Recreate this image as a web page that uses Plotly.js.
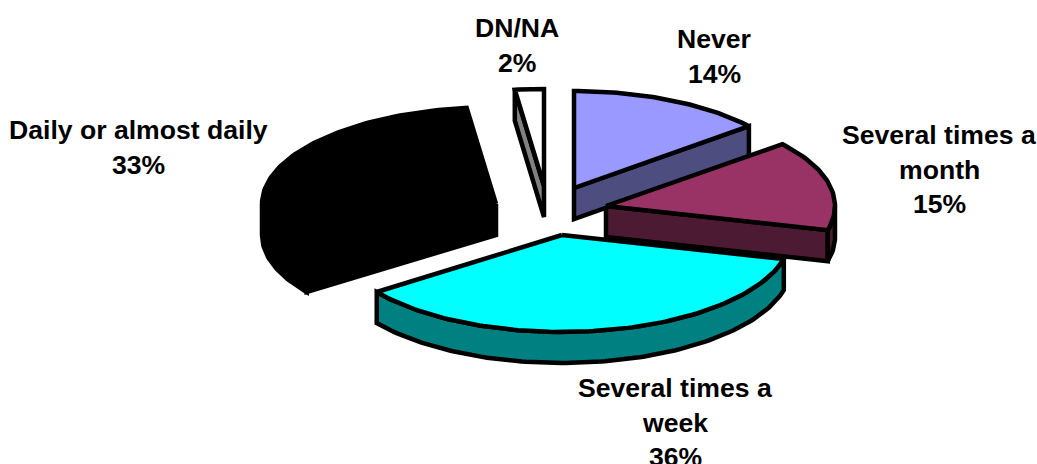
<!DOCTYPE html>
<html>
<head>
<meta charset="utf-8">
<script src="https://cdn.plot.ly/plotly-3.0.1.min.js"></script>
<style>
html, body { margin: 0; padding: 0; background: #fff; overflow: hidden; }
#chart { width: 1037px; height: 464px; }
#chart .scatterlayer path { stroke-linejoin: miter !important; stroke-miterlimit: 2.5; }
</style>
</head>
<body>
<div id="chart"></div>
<script>
// Survey answers, clockwise from twelve o'clock
const categories = ['Never', 'Several times a month', 'Several times a week', 'Daily or almost daily', 'DN/NA'];
const shares = [14, 15, 36, 33, 2];

// Label text, one entry per drawn line, with the percentage appended below
const labelLines = [['Never'], ['Several times a', 'month'], ['Several times a', 'week'], ['Daily or almost daily'], ['DN/NA']];

// Slice colours
const faceColors = ['#9999ff', '#993366', '#00ffff', '#000000', '#ffffff'];
const wallColors = ['#4d4d80', '#4d1a33', '#008080', '#000000', '#808080'];

// Projection of the tilted, exploded disc
const radiusX = [227, 229, 229, 234, 233];
const radiusY = 97;
const depth = 31;
const apexX = [574, 606, 562, 496, 544];
const apexY = [188, 206, 235, 204, 186];
const outline = 4.5;

// Label anchor (centre of first line) and line spacing
const labelX = [714, 939, 675, 138, 517];
const labelY = [39, 135, 388, 130, 28];
const lineStep = 34.5;
const labelSize = 26.6;

const rad = d => d * Math.PI / 180;
const at = (i, deg, drop = 0) => [
  apexX[i] + radiusX[i] * Math.sin(rad(deg)),
  apexY[i] - radiusY * Math.cos(rad(deg)) + drop
];

function arc(i, from, to, drop = 0) {
  const pts = [];
  const n = Math.max(2, Math.ceil(Math.abs(to - from)));
  for (let k = 0; k <= n; k++) pts.push(at(i, from + (to - from) * k / n, drop));
  return pts;
}

function polygon(pts, fill) {
  const closed = pts.concat([pts[0]]);
  return {
    type: 'scatter', mode: 'lines',
    x: closed.map(p => p[0]), y: closed.map(p => p[1]),
    fill: 'toself', fillcolor: fill,
    line: { color: '#000000', width: outline },
    hoverinfo: 'skip', showlegend: false
  };
}

function sliceTraces(i, start, end) {
  const out = [];
  const apex = [apexX[i], apexY[i]];
  const apexLow = [apexX[i], apexY[i] + depth];
  // Cut faces that turn towards the viewer
  if (Math.sin(rad(start)) < -1e-6) {
    out.push(polygon([apex, at(i, start), at(i, start, depth), apexLow], wallColors[i]));
  }
  if (Math.sin(rad(end)) > 1e-6) {
    out.push(polygon([apex, at(i, end), at(i, end, depth), apexLow], wallColors[i]));
  }
  // Outer rim: only the front half of the disc shows
  const a = Math.max(start, 90), b = Math.min(end, 270);
  if (b > a) {
    out.push(polygon(arc(i, a, b).concat(arc(i, b, a, depth)), wallColors[i]));
  }
  // Top face
  out.push(polygon([apex].concat(arc(i, start, end)), faceColors[i]));
  return out;
}

const total = shares.reduce((s, v) => s + v, 0);
const spans = [];
let running = 0;
shares.forEach(v => {
  spans.push([running / total * 360, (running + v) / total * 360]);
  running += v;
});

// Back slices first so the front ones overlap them
const drawOrder = [3, 4, 0, 1, 2];
const traces = [];
drawOrder.forEach(i => traces.push(...sliceTraces(i, spans[i][0], spans[i][1])));

const annotations = [];
categories.forEach((name, i) => {
  labelLines[i].concat([shares[i] + '%']).forEach((line, k) => {
    annotations.push({
      x: labelX[i], y: labelY[i] + k * lineStep,
      xref: 'x', yref: 'y', xanchor: 'center', yanchor: 'middle',
      text: '<b>' + line + '</b>', showarrow: false,
      font: { family: 'Liberation Sans, Arial, sans-serif', size: labelSize, color: '#000000' }
    });
  });
});

const hidden = { visible: false, fixedrange: true };
Plotly.newPlot('chart', traces, {
  width: 1037, height: 464,
  margin: { l: 0, r: 0, t: 0, b: 0 },
  paper_bgcolor: '#ffffff', plot_bgcolor: '#ffffff',
  xaxis: Object.assign({ range: [0, 1037] }, hidden),
  yaxis: Object.assign({ range: [464, 0] }, hidden),
  annotations: annotations,
  showlegend: false
}, { displayModeBar: false, staticPlot: true });
</script>
</body>
</html>
